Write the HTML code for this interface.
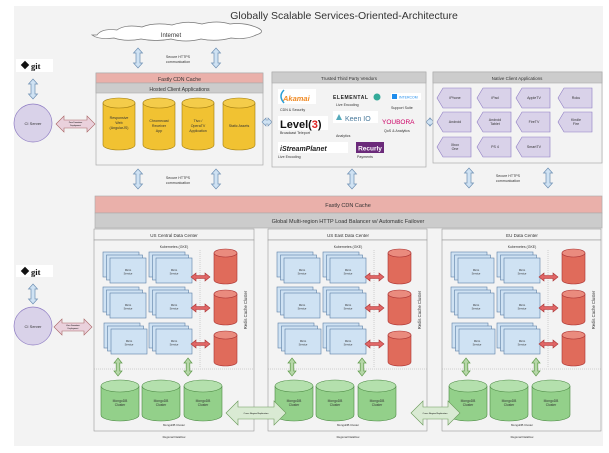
<!DOCTYPE html>
<html><head><meta charset="utf-8"><style>
html,body{margin:0;padding:0;background:#fff}
svg{display:block;font-family:"Liberation Sans",sans-serif}
</style></head><body>
<svg width="609" height="453" viewBox="0 0 609 453" xmlns="http://www.w3.org/2000/svg">
<defs>
<g id="va"><polygon points="0,0 4.5,5 2,5 2,15 4.5,15 0,20 -4.5,15 -2,15 -2,5 -4.5,5" fill="#cfe2f3" stroke="#6d8fb3" stroke-width="0.7"/></g>
<g id="ga"><polygon points="0,0 4,5 1.8,5 1.8,13 4,13 0,18 -4,13 -1.8,13 -1.8,5 -4,5" fill="#b6d7a8" stroke="#5f9a4a" stroke-width="0.7"/></g>
<g id="ra"><polygon points="0,4 5,0 5,2.5 14,2.5 14,0 19,4 14,8 14,5.5 5,5.5 5,8" fill="#e06666" stroke="#a33" stroke-width="0.6"/></g>
<g id="rc"><path d="M0,4 v27 a11.5,4 0 0 0 23,0 v-27 z" fill="#e06b5b" stroke="#a33" stroke-width="0.6"/><ellipse cx="11.5" cy="4" rx="11.5" ry="4" fill="#ea8b7e" stroke="#a33" stroke-width="0.6"/></g>
<g id="mc"><path d="M0,6 v29 a19,6 0 0 0 38,0 v-29 z" fill="#93d08a" stroke="#4d8a45" stroke-width="0.6"/><ellipse cx="19" cy="6" rx="19" ry="6" fill="#b4e0ad" stroke="#4d8a45" stroke-width="0.6"/></g>
<g id="yc"><path d="M0,5 v42 a16,5 0 0 0 32,0 v-42 z" fill="#f1c232" stroke="#a07c10" stroke-width="0.6"/><ellipse cx="16" cy="5" rx="16" ry="5" fill="#f4cc4a" stroke="#a07c10" stroke-width="0.6"/></g>
<g id="ms"><rect x="0" y="0" width="36" height="25" fill="#cfe2f3" stroke="#5b7fa6" stroke-width="0.6"/><rect x="3.5" y="3" width="36" height="25" fill="#cfe2f3" stroke="#5b7fa6" stroke-width="0.6"/><rect x="7" y="6" width="36" height="25" fill="#cfe2f3" stroke="#5b7fa6" stroke-width="0.6"/></g>
<g id="hx"><polygon points="0,10 6,0 34,0 34,20 6,20" fill="#d9d2e9" stroke="#8e7cc3" stroke-width="0.6"/></g>
</defs>
<rect x="14" y="6" width="589" height="440" fill="#f3f3f3"/>
<text x="344" y="19" font-size="10.5" text-anchor="middle" fill="#333">Globally Scalable Services-Oriented-Architecture</text>
<path d="M97,35 q5,-7 20,-5 q8,-6 25,-3 q12,-5 30,-2 q15,-5 30,-1 q15,-4 28,0 q15,-2 28,4 q8,4 -2,7 q-10,5 -25,3 q-15,4 -30,1 q-15,4 -30,0 q-15,3 -30,0 q-15,3 -27,-1 q-15,2 -22,-3 z" fill="#fff" stroke="#777" stroke-width="0.7"/>
<text x="171" y="37" font-size="6" text-anchor="middle" fill="#333">Internet</text>
<use href="#va" x="138" y="48"/><use href="#va" x="216" y="48"/>
<text x="178" y="58" font-size="3.6" text-anchor="middle" fill="#333">Secure HTTPS</text>
<text x="178" y="63" font-size="3.6" text-anchor="middle" fill="#333">communication</text>
<rect x="16" y="59" width="37" height="13" fill="#fff"/>
<rect x="22" y="62" width="6" height="6" transform="rotate(45 25 65)" fill="#111"/>
<text x="31" y="69" font-size="8.5" font-weight="bold" font-family="Liberation Serif,serif" fill="#111">git</text>
<use href="#va" x="33" y="79"/>
<circle cx="33" cy="123" r="19" fill="#d9d2e9" stroke="#8e7cc3" stroke-width="0.7"/>
<text x="33" y="125" font-size="4" text-anchor="middle" fill="#333">CI Server</text>
<polygon points="56,124 64,116 64,120 87,120 87,116 95,124 87,132 87,128 64,128 64,132" fill="#ead1dc" stroke="#a66" stroke-width="0.6"/>
<text x="75.5" y="123" font-size="2" text-anchor="middle">Zero Downtime</text><text x="75.5" y="126" font-size="2" text-anchor="middle">Deployment</text>
<rect x="96" y="73" width="167" height="92" fill="#f3f3f3" stroke="#aaa" stroke-width="0.7"/>
<rect x="96" y="73" width="167" height="10" fill="#eab0aa" stroke="#aaa" stroke-width="0.6"/>
<text x="179.5" y="81" font-size="5.2" text-anchor="middle" fill="#333">Fastly CDN Cache</text>
<rect x="96" y="83" width="167" height="10" fill="#ccc" stroke="#aaa" stroke-width="0.6"/>
<text x="179.5" y="91" font-size="5.2" text-anchor="middle" fill="#333">Hosted Client Applications</text>
<use href="#yc" x="103" y="98"/><use href="#yc" x="143" y="98"/><use href="#yc" x="182" y="98"/><use href="#yc" x="223" y="98"/>
<g font-size="3.6" text-anchor="middle" fill="#333">
<text x="119" y="119">Responsive</text><text x="119" y="124">Web</text><text x="119" y="129">(AngularJS)</text>
<text x="159" y="122">Chromecast</text><text x="159" y="127">Receiver</text><text x="159" y="132">App</text>
<text x="198" y="122">Tivo /</text><text x="198" y="127">OperaTV</text><text x="198" y="132">Application</text>
<text x="239" y="127">Static Assets</text>
</g>
<polygon points="262,122 266,118 266,120 268,120 268,118 272,122 268,126 268,124 266,124 266,126" fill="#cfe2f3" stroke="#6d8fb3" stroke-width="0.6"/>
<polygon points="426,122 430,118 430,120 430,120 430,118 434,122 430,126 430,124 430,124 430,126" fill="#cfe2f3" stroke="#6d8fb3" stroke-width="0.6"/>
<rect x="272" y="72" width="154" height="95" fill="#f3f3f3" stroke="#aaa" stroke-width="0.7"/>
<rect x="272" y="72" width="154" height="11" fill="#ccc" stroke="#aaa" stroke-width="0.6"/>
<text x="349" y="80" font-size="4.5" text-anchor="middle" fill="#333">Trusted Third Party Vendors</text>
<rect x="278" y="89" width="38" height="15" fill="#fff"/>
<text x="283" y="101" font-size="7.5" font-weight="bold" fill="#f08a24" font-style="italic">Akamai</text>
<path d="M284,90 q-6,6 0,13" stroke="#2a9fd6" stroke-width="1.5" fill="none"/>
<g font-size="3.6" fill="#333">
<text x="280" y="111">CDN &amp; Security</text>
<text x="280" y="134">Broadcast Teleport</text>
<text x="278" y="158">Live Encoding</text>
<text x="336" y="106">Live Encoding</text>
<text x="336" y="137">Analytics</text>
<text x="391" y="109">Support Suite</text>
<text x="384" y="132">QoS &amp; Analytics</text>
<text x="357" y="158">Payments</text>
</g>
<rect x="278" y="116" width="50" height="14" fill="#fff"/>
<text x="280" y="128" font-size="11" font-weight="bold" fill="#111">Level(<tspan fill="#d22">3</tspan>)</text>
<rect x="278" y="142" width="70" height="11" fill="#fff"/>
<text x="280" y="151" font-size="7" font-weight="bold" font-style="italic" fill="#222">iStreamPlanet</text>
<text x="333" y="99" font-size="5" font-weight="bold" fill="#222" letter-spacing="0.6">ELEMENTAL</text>
<circle cx="377" cy="97" r="3.5" fill="#3a9" />
<rect x="333" y="111" width="45" height="12" fill="#fff"/>
<text x="345" y="121" font-size="7" fill="#4a7a9c">Keen IO</text>
<polygon points="336,120 339,114 342,120" fill="#5ab"/>
<rect x="391" y="93" width="30" height="7" fill="#fff"/>
<rect x="392" y="94" width="5" height="5" fill="#1f8ded"/>
<text x="399" y="98.5" font-size="3.5" fill="#1f8ded">INTERCOM</text>
<text x="382" y="124" font-size="6.5" fill="#c06" >YOUBORA</text>
<rect x="356" y="142" width="28" height="11" fill="#6b2a7a"/>
<text x="370" y="150.5" font-size="6.5" font-weight="bold" text-anchor="middle" fill="#fff">Recurly</text>
<rect x="433" y="72" width="169" height="91" fill="#f3f3f3" stroke="#aaa" stroke-width="0.7"/>
<rect x="433" y="72" width="169" height="11" fill="#ccc" stroke="#aaa" stroke-width="0.6"/>
<text x="517" y="80" font-size="4.5" text-anchor="middle" fill="#333">Native Client Applications</text>
<use href="#hx" x="437" y="88"/><use href="#hx" x="477" y="88"/><use href="#hx" x="516" y="88"/><use href="#hx" x="558" y="88"/>
<use href="#hx" x="437" y="112"/><use href="#hx" x="477" y="112"/><use href="#hx" x="516" y="112"/><use href="#hx" x="558" y="112"/>
<use href="#hx" x="437" y="137"/><use href="#hx" x="477" y="137"/><use href="#hx" x="516" y="137"/>
<g font-size="3.6" text-anchor="middle" fill="#333">
<text x="455" y="99">iPhone</text><text x="495" y="99">iPad</text><text x="534" y="99">AppleTV</text><text x="576" y="99">Roku</text>
<text x="455" y="123">Android</text><text x="495" y="121">Android</text><text x="495" y="125">Tablet</text><text x="534" y="123">FireTV</text><text x="576" y="121">Kindle</text><text x="576" y="125">Fire</text>
<text x="455" y="146">Xbox</text><text x="455" y="150">One</text><text x="495" y="148">PS 4</text><text x="534" y="148">SmartTV</text>
</g>
<use href="#va" x="138" y="169"/><use href="#va" x="216" y="169"/><use href="#va" x="352" y="169"/><use href="#va" x="469" y="168"/><use href="#va" x="548" y="168"/>
<text x="178" y="179" font-size="3.6" text-anchor="middle" fill="#333">Secure HTTPS</text>
<text x="178" y="184" font-size="3.6" text-anchor="middle" fill="#333">communication</text>
<text x="508" y="177" font-size="3.6" text-anchor="middle" fill="#333">Secure HTTPS</text>
<text x="508" y="182" font-size="3.6" text-anchor="middle" fill="#333">communication</text>
<rect x="95" y="196" width="507" height="17" fill="#eab0aa" stroke="#aaa" stroke-width="0.6"/>
<text x="348" y="207" font-size="5.5" text-anchor="middle" fill="#333">Fastly CDN Cache</text>
<rect x="95" y="213" width="507" height="15" fill="#ccc" stroke="#aaa" stroke-width="0.6"/>
<text x="348" y="223" font-size="5.5" text-anchor="middle" fill="#333">Global Multi-region HTTP Load Balancer w/ Automatic Failover</text>
<rect x="16" y="265" width="37" height="12" fill="#fff"/>
<rect x="22" y="268" width="6" height="6" transform="rotate(45 25 271)" fill="#111"/>
<text x="31" y="275" font-size="8.5" font-weight="bold" font-family="Liberation Serif,serif" fill="#111">git</text>
<use href="#va" x="33" y="284"/>
<circle cx="33" cy="326" r="19" fill="#d9d2e9" stroke="#8e7cc3" stroke-width="0.7"/>
<text x="33" y="328" font-size="4" text-anchor="middle" fill="#333">CI Server</text>
<polygon points="54,327 62,319 62,323 84,323 84,319 92,327 84,335 84,331 62,331 62,335" fill="#ead1dc" stroke="#a66" stroke-width="0.6"/>
<text x="73" y="326" font-size="2" text-anchor="middle">Zero Downtime</text><text x="73" y="329" font-size="2" text-anchor="middle">Deployment</text>
<g transform="translate(94,229)">
<rect x="0" y="0" width="160" height="11" fill="#f3f3f3" stroke="#999" stroke-width="0.6"/>
<text x="80" y="8" font-size="4.5" text-anchor="middle" fill="#333">US Central Data Center</text>
<rect x="0" y="11" width="160" height="191" fill="#f3f3f3" stroke="#999" stroke-width="0.6"/>
<text x="80" y="19" font-size="3.5" text-anchor="middle" fill="#333">Kubernetes (GKE)</text>
<line x1="106" y1="21" x2="106" y2="138" stroke="#aaa" stroke-width="0.5" stroke-dasharray="1,1"/>
<line x1="0" y1="140" x2="160" y2="140" stroke="#aaa" stroke-width="0.5" stroke-dasharray="1,1"/>
<use href="#ms" x="9" y="23"/><use href="#ms" x="55" y="23"/><use href="#ms" x="9" y="58"/><use href="#ms" x="55" y="58"/><use href="#ms" x="10" y="94"/><use href="#ms" x="55" y="94"/>
<g font-size="2.6" text-anchor="middle" fill="#333"><text x="34" y="42">Micro</text><text x="34" y="45.5">Service</text><text x="80" y="42">Micro</text><text x="80" y="45.5">Service</text><text x="34" y="77">Micro</text><text x="34" y="80.5">Service</text><text x="80" y="77">Micro</text><text x="80" y="80.5">Service</text><text x="35" y="113">Micro</text><text x="35" y="116.5">Service</text><text x="80" y="113">Micro</text><text x="80" y="116.5">Service</text></g>
<use href="#ra" x="97" y="44"/><use href="#ra" x="97" y="75"/><use href="#ra" x="97" y="111"/>
<use href="#rc" x="120" y="20"/><use href="#rc" x="120" y="61"/><use href="#rc" x="120" y="102"/>
<text x="0" y="0" font-size="4.2" fill="#333" text-anchor="middle" transform="translate(153,81) rotate(-90)">Redis Cache Cluster</text>
<use href="#ga" x="24" y="129"/><use href="#ga" x="94" y="129"/>
<use href="#mc" x="7" y="151"/><use href="#mc" x="48" y="151"/><use href="#mc" x="90" y="151"/>
<g font-size="3.3" text-anchor="middle" fill="#333"><text x="26" y="173">MongoDB</text><text x="26" y="177">Cluster</text><text x="67" y="173">MongoDB</text><text x="67" y="177">Cluster</text><text x="109" y="173">MongoDB</text><text x="109" y="177">Cluster</text></g>
<text x="80" y="197" font-size="2.8" text-anchor="middle" fill="#333">MongoDB Cluster</text>
<text x="80" y="209" font-size="2.8" text-anchor="middle" fill="#333">Regional Dataflow</text>
</g>
<g transform="translate(268,229)">
<rect x="0" y="0" width="159" height="11" fill="#f3f3f3" stroke="#999" stroke-width="0.6"/>
<text x="80" y="8" font-size="4.5" text-anchor="middle" fill="#333">US East Data Center</text>
<rect x="0" y="11" width="159" height="191" fill="#f3f3f3" stroke="#999" stroke-width="0.6"/>
<text x="80" y="19" font-size="3.5" text-anchor="middle" fill="#333">Kubernetes (GKE)</text>
<line x1="106" y1="21" x2="106" y2="138" stroke="#aaa" stroke-width="0.5" stroke-dasharray="1,1"/>
<line x1="0" y1="140" x2="159" y2="140" stroke="#aaa" stroke-width="0.5" stroke-dasharray="1,1"/>
<use href="#ms" x="9" y="23"/><use href="#ms" x="55" y="23"/><use href="#ms" x="9" y="58"/><use href="#ms" x="55" y="58"/><use href="#ms" x="10" y="94"/><use href="#ms" x="55" y="94"/>
<g font-size="2.6" text-anchor="middle" fill="#333"><text x="34" y="42">Micro</text><text x="34" y="45.5">Service</text><text x="80" y="42">Micro</text><text x="80" y="45.5">Service</text><text x="34" y="77">Micro</text><text x="34" y="80.5">Service</text><text x="80" y="77">Micro</text><text x="80" y="80.5">Service</text><text x="35" y="113">Micro</text><text x="35" y="116.5">Service</text><text x="80" y="113">Micro</text><text x="80" y="116.5">Service</text></g>
<use href="#ra" x="97" y="44"/><use href="#ra" x="97" y="75"/><use href="#ra" x="97" y="111"/>
<use href="#rc" x="120" y="20"/><use href="#rc" x="120" y="61"/><use href="#rc" x="120" y="102"/>
<text x="0" y="0" font-size="4.2" fill="#333" text-anchor="middle" transform="translate(153,81) rotate(-90)">Redis Cache Cluster</text>
<use href="#ga" x="24" y="129"/><use href="#ga" x="94" y="129"/>
<use href="#mc" x="7" y="151"/><use href="#mc" x="48" y="151"/><use href="#mc" x="90" y="151"/>
<g font-size="3.3" text-anchor="middle" fill="#333"><text x="26" y="173">MongoDB</text><text x="26" y="177">Cluster</text><text x="67" y="173">MongoDB</text><text x="67" y="177">Cluster</text><text x="109" y="173">MongoDB</text><text x="109" y="177">Cluster</text></g>
<text x="80" y="197" font-size="2.8" text-anchor="middle" fill="#333">MongoDB Cluster</text>
<text x="80" y="209" font-size="2.8" text-anchor="middle" fill="#333">Regional Dataflow</text>
</g>
<g transform="translate(442,229)">
<rect x="0" y="0" width="159" height="11" fill="#f3f3f3" stroke="#999" stroke-width="0.6"/>
<text x="80" y="8" font-size="4.5" text-anchor="middle" fill="#333">EU Data Center</text>
<rect x="0" y="11" width="159" height="191" fill="#f3f3f3" stroke="#999" stroke-width="0.6"/>
<text x="80" y="19" font-size="3.5" text-anchor="middle" fill="#333">Kubernetes (GKE)</text>
<line x1="106" y1="21" x2="106" y2="138" stroke="#aaa" stroke-width="0.5" stroke-dasharray="1,1"/>
<line x1="0" y1="140" x2="159" y2="140" stroke="#aaa" stroke-width="0.5" stroke-dasharray="1,1"/>
<use href="#ms" x="9" y="23"/><use href="#ms" x="55" y="23"/><use href="#ms" x="9" y="58"/><use href="#ms" x="55" y="58"/><use href="#ms" x="10" y="94"/><use href="#ms" x="55" y="94"/>
<g font-size="2.6" text-anchor="middle" fill="#333"><text x="34" y="42">Micro</text><text x="34" y="45.5">Service</text><text x="80" y="42">Micro</text><text x="80" y="45.5">Service</text><text x="34" y="77">Micro</text><text x="34" y="80.5">Service</text><text x="80" y="77">Micro</text><text x="80" y="80.5">Service</text><text x="35" y="113">Micro</text><text x="35" y="116.5">Service</text><text x="80" y="113">Micro</text><text x="80" y="116.5">Service</text></g>
<use href="#ra" x="97" y="44"/><use href="#ra" x="97" y="75"/><use href="#ra" x="97" y="111"/>
<use href="#rc" x="120" y="20"/><use href="#rc" x="120" y="61"/><use href="#rc" x="120" y="102"/>
<text x="0" y="0" font-size="4.2" fill="#333" text-anchor="middle" transform="translate(153,81) rotate(-90)">Redis Cache Cluster</text>
<use href="#ga" x="24" y="129"/><use href="#ga" x="94" y="129"/>
<use href="#mc" x="7" y="151"/><use href="#mc" x="48" y="151"/><use href="#mc" x="90" y="151"/>
<g font-size="3.3" text-anchor="middle" fill="#333"><text x="26" y="173">MongoDB</text><text x="26" y="177">Cluster</text><text x="67" y="173">MongoDB</text><text x="67" y="177">Cluster</text><text x="109" y="173">MongoDB</text><text x="109" y="177">Cluster</text></g>
<text x="80" y="197" font-size="2.8" text-anchor="middle" fill="#333">MongoDB Cluster</text>
<text x="80" y="209" font-size="2.8" text-anchor="middle" fill="#333">Regional Dataflow</text>
</g>
<polygon points="226,413 238,401 238,407 274,407 274,401 286,413 274,425 274,419 238,419 238,425" fill="#d9ead3" stroke="#6a9a5a" stroke-width="0.6"/>
<text x="256" y="414" font-size="2.2" text-anchor="middle">Cross Region Replication</text>
<polygon points="411,413 423,401 423,407 448,407 448,401 460,413 448,425 448,419 423,419 423,425" fill="#d9ead3" stroke="#6a9a5a" stroke-width="0.6"/>
<text x="435" y="414" font-size="2.2" text-anchor="middle">Cross Region Replication</text>
</svg>
</body></html>
